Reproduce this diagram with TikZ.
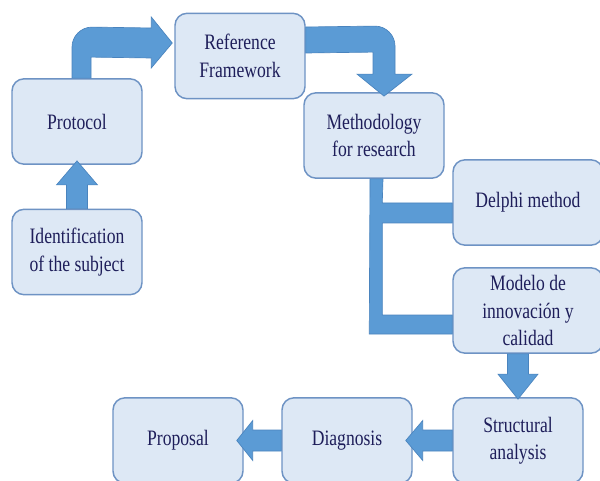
\documentclass[tikz,border=0pt]{standalone}
\usepackage{fontspec}
\setmainfont{Liberation Serif}[FakeStretch=0.8]
\usetikzlibrary{calc}
\definecolor{boxfill}{HTML}{DDE8F5}
\definecolor{boxline}{HTML}{6E93C4}
\definecolor{arrfill}{HTML}{5B9BD5}
\definecolor{arrline}{HTML}{4A84BE}
\definecolor{txt}{HTML}{1E1E5A}
\begin{document}
\begin{tikzpicture}[x=0.75pt,y=-0.75pt,
  box/.style={draw=boxline, line width=1.1pt, fill=boxfill, rounded corners=9pt,
    minimum width=97.5pt, minimum height=64pt, inner sep=0pt, align=center,
    text=txt, font=\fontsize{16.5}{20.5}\selectfont},
  widebox/.style={box, minimum width=105pt},
  sidebox/.style={box, minimum width=112.5pt},
  arr/.style={fill=arrfill, draw=arrline, line width=0.5pt, line join=miter}]
\clip (0,0) rectangle (600,481);
\fill[white] (0,0) rectangle (600,481);
% boxes
\node[box] (prot) at (77,121.5) {Protocol};
\node[box] (ref) at (240,56) {Reference\\Framework};
\node[box] (ident) at (77,252) {Identification\\of the subject};
\node[widebox] (meth) at (374,135.5) {Methodology\\for research};
\node[sidebox] (delphi) at (528,202.5) {Delphi method};
\node[sidebox] (modelo) at (528,310.5) {Modelo de\\innovación y\\calidad};
\node[box] (struct) at (518,440.5) {Structural\\analysis};
\node[box] (diag) at (347,440.5) {Diagnosis};
\node[box] (prop) at (178,440.5) {Proposal};
% ident -> prot
\path[arr] ($(ident.north)+(-10.5,0)$) -- ($(prot.south)+(-10.5,20)$)
  -- ($(prot.south)+(-20.5,20)$) -- ($(prot.south)+(0,-4)$)
  -- ($(prot.south)+(20.5,20)$) -- ($(prot.south)+(10.5,20)$)
  -- ($(ident.north)+(10.5,0)$) -- cycle;
% prot -> ref (bent)
\path[arr] ($(prot.north)+(-5,0)$) -- ($(prot.north)+(-5,-31)$)
  .. controls ($(prot.north)+(-5,-42)$) and ($(prot.north)+(4,-51)$) .. ($(prot.north)+(15,-51)$)
  -- ($(ref.west)+(-23,-28)$) -- ($(ref.west)+(-23,-39)$)
  -- ($(ref.west)+(-2,-13)$) -- ($(ref.west)+(-23,12)$)
  -- ($(ref.west)+(-23,2)$) -- ($(prot.north)+(14,-21)$)
  -- ($(prot.north)+(14,0)$) -- cycle;
% ref -> meth (bent)
\path[arr] ($(ref.east)+(0,-29)$) -- ($(meth.north)+(1,-66)$)
  .. controls ($(meth.north)+(12,-66)$) and ($(meth.north)+(21,-57)$) .. ($(meth.north)+(21,-46)$)
  -- ($(meth.north)+(21,-18)$) -- ($(meth.north)+(38,-18)$)
  -- ($(meth.north)+(10,4)$) -- ($(meth.north)+(-17,-18)$)
  -- ($(meth.north)+(-1,-18)$) -- ($(meth.north)+(-1,-40)$)
  -- ($(ref.east)+(0,-3)$) -- cycle;
% meth -> delphi, modelo (bracket)
\path[arr] ($(meth.south)+(-4,0)$) -- ($(modelo.west)+(-83,23.5)$)
  -- ($(modelo.west)+(0,23.5)$) -- ($(modelo.west)+(0,4.5)$)
  -- ($(modelo.west)+(-70,4.5)$) -- ($(delphi.west)+(-70,20.5)$)
  -- ($(delphi.west)+(0,20.5)$) -- ($(delphi.west)+(0,0.5)$)
  -- ($(delphi.west)+(-70,0.5)$) -- ($(meth.south)+(9,0)$) -- cycle;
% modelo -> struct
\path[arr] ($(modelo.south -| struct.north)+(-10.5,0)$) -- ($(struct.north)+(-10.5,-23)$)
  -- ($(struct.north)+(-20,-23)$) -- ($(struct.north)+(0,2)$)
  -- ($(struct.north)+(20,-23)$) -- ($(struct.north)+(10.5,-23)$)
  -- ($(modelo.south -| struct.north)+(10.5,0)$) -- cycle;
% struct -> diag
\path[arr] ($(struct.west)+(0,-10.5)$) -- ($(diag.east)+(10,-10.5)$)
  -- ($(diag.east)+(10,-20)$) -- ($(diag.east)+(-7,0)$)
  -- ($(diag.east)+(10,20)$) -- ($(diag.east)+(10,10.5)$)
  -- ($(struct.west)+(0,10.5)$) -- cycle;
% diag -> prop
\path[arr] ($(diag.west)+(0,-10.5)$) -- ($(prop.east)+(9,-10.5)$)
  -- ($(prop.east)+(9,-20)$) -- ($(prop.east)+(-7,0)$)
  -- ($(prop.east)+(9,20)$) -- ($(prop.east)+(9,10.5)$)
  -- ($(diag.west)+(0,10.5)$) -- cycle;
\end{tikzpicture}
\end{document}
